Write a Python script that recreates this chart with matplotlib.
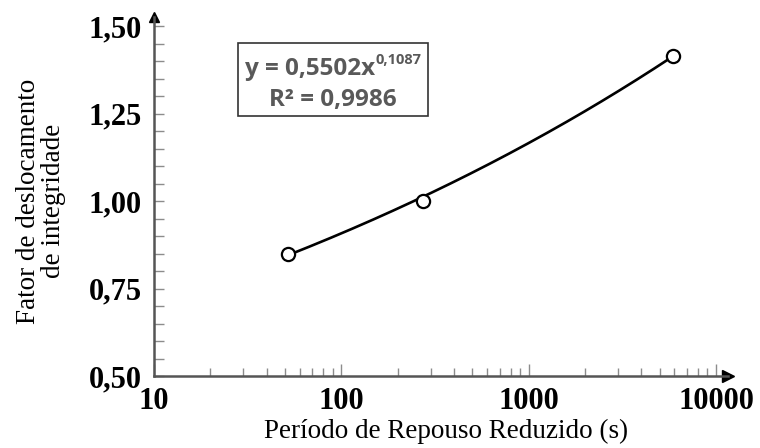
import numpy as np
import matplotlib
matplotlib.use("Agg")
import matplotlib.pyplot as plt
from matplotlib.patches import Rectangle

# measured points
periodo = [52, 272, 5930]
fator = [0.85, 1.00, 1.415]

# power fit y = a * x^b
coef_a = 0.5502
coef_b = 0.1087
r2 = 0.9986

x_ticks = [10, 100, 1000, 10000]
x_tick_labels = ["10", "100", "1000", "10000"]
y_ticks = [0.50, 0.75, 1.00, 1.25, 1.50]
y_tick_labels = ["0,50", "0,75", "1,00", "1,25", "1,50"]

fig = plt.figure(figsize=(7.6, 4.48), dpi=100)
ax = fig.add_axes([154 / 760, 1 - 376 / 448, 574 / 760, 359 / 448])

xs = np.logspace(np.log10(periodo[0]), np.log10(periodo[-1]), 200)
ax.plot(xs, coef_a * xs ** coef_b, color="black", lw=1.9, zorder=3)
ax.plot(periodo, fator, "o", mfc="white", mec="black", ms=9.5, mew=1.6, zorder=4)

ax.set_xscale("log")
ax.set_xlim(10, 11590)
ax.set_ylim(0.5, 1.526)

ax.set_xticks(x_ticks)
ax.set_xticklabels(x_tick_labels)
ax.set_yticks(y_ticks)
ax.set_yticklabels(y_tick_labels)
ax.set_yticks(np.arange(0.5, 1.51, 0.05), minor=True)

for lab in ax.get_xticklabels() + ax.get_yticklabels():
    lab.set_fontfamily("Liberation Serif")
    lab.set_fontweight("bold")
    lab.set_fontsize(22)

ax.tick_params(which="both", direction="in", color="#8c8c8c", width=1)
ax.tick_params(axis="x", which="major", length=9, pad=8)
ax.tick_params(axis="x", which="minor", length=6)
ax.tick_params(axis="y", which="both", length=7, pad=9)

for s in ["top", "right"]:
    ax.spines[s].set_visible(False)
for s in ["left", "bottom"]:
    ax.spines[s].set_color("#555555")
    ax.spines[s].set_linewidth(1.8)

# arrow heads at axis ends
ax.plot(1, 0, ">", color="black", ms=8, transform=ax.transAxes, clip_on=False)
ax.plot(0, 1, "^", color="black", ms=7, transform=ax.transAxes, clip_on=False)

# equation box
box = Rectangle((238 / 760, 1 - 116 / 448), 190 / 760, 73 / 448, transform=fig.transFigure,
                fill=False, edgecolor="#333333", lw=1.2)
fig.patches.append(box)
fig.text(245 / 760, 1 - 75 / 448, "y = 0,5502x", fontfamily="Open Sans", fontweight="bold",
         fontsize=17.5, color="#595959", va="baseline", ha="left")
fig.text(375 / 760, 1 - 64 / 448, "0,{}".format(str(coef_b).split(".")[1]), fontfamily="Open Sans",
         fontweight="bold", fontsize=10.5, color="#595959", va="baseline", ha="left")
fig.text(333 / 760, 1 - 106 / 448, "R² = {}".format(str(r2).replace(".", ",")), fontfamily="Open Sans",
         fontweight="bold", fontsize=17.5, color="#595959", va="baseline", ha="center")

fig.text(446 / 760, 1 - 431 / 448, "Período de Repouso Reduzido (s)", fontfamily="Liberation Serif",
         fontsize=19.5, ha="center", va="center")
fig.text(41 / 760, 1 - 201 / 448, "Fator de deslocamento\nde integridade", fontfamily="Liberation Serif",
         fontsize=19.5, ha="center", va="center", rotation=90, linespacing=1.05)

fig.savefig("out.png", dpi=100)
